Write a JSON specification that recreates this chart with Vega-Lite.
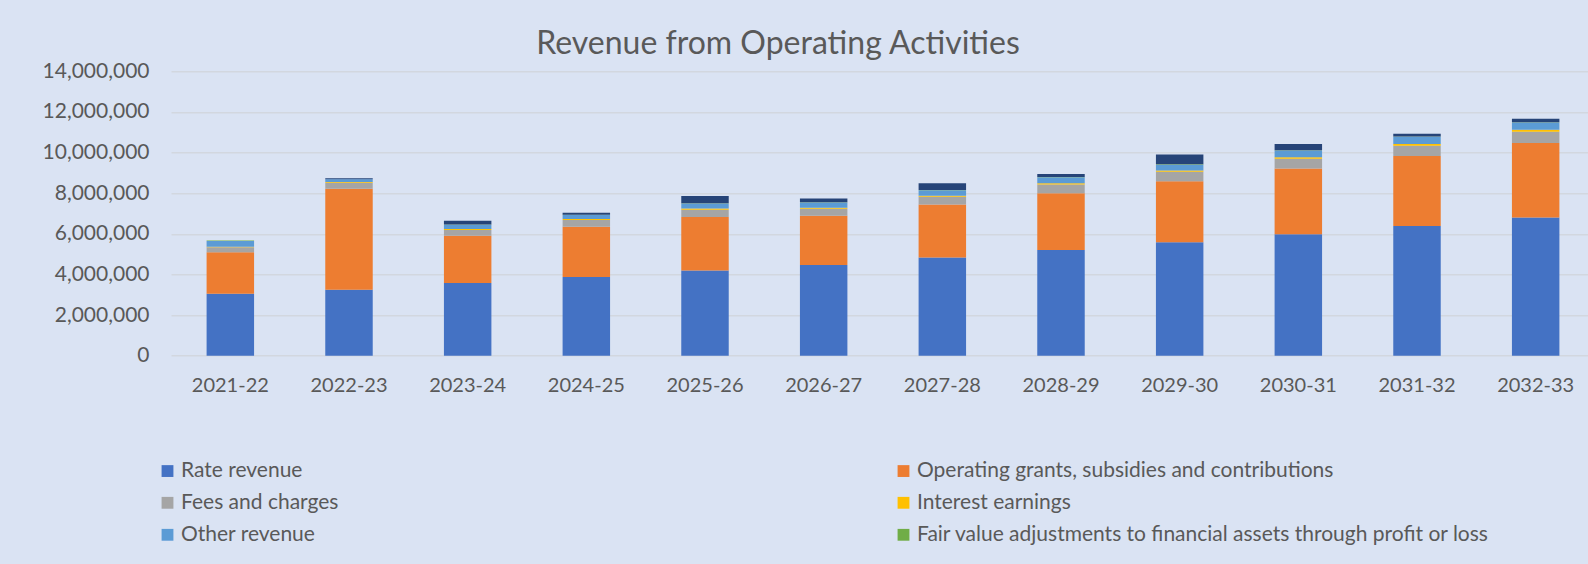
{
  "$schema": "https://vega.github.io/schema/vega-lite/v6.json",
  "autosize": "none",
  "width": 1424,
  "height": 284.4,
  "padding": {"left": 171, "top": 71.3, "right": 0, "bottom": 208.3},
  "background": "#DAE3F3",
  "config": {
    "font": "Lato",
    "view": {"stroke": null},
    "axis": {"labelColor": "#595959", "labelFont": "Lato", "labelFontSize": 20, "ticks": false, "domain": false, "title": null}
  },
  "title": {
    "text": "Revenue from Operating Activities",
    "font": "Lato",
    "fontSize": 32,
    "fontWeight": "normal",
    "color": "#595959",
    "anchor": "middle",
    "baseline": "alphabetic",
    "offset": -26,
    "dx": -105
  },
  "data": {
    "values": [
      {"y": "2021-22", "s": "Rate revenue", "v": 3050000},
      {"y": "2021-22", "s": "Operating grants, subsidies and  contributions", "v": 2040000},
      {"y": "2021-22", "s": "Fees and charges", "v": 246000},
      {"y": "2021-22", "s": "Interest earnings", "v": 30000},
      {"y": "2021-22", "s": "Other revenue", "v": 280000},
      {"y": "2021-22", "s": "Fair value adjustments to financial assets through profit or loss", "v": 20000},
      {"y": "2021-22", "s": "Other gains", "v": 0},
      {"y": "2022-23", "s": "Rate revenue", "v": 3250000},
      {"y": "2022-23", "s": "Operating grants, subsidies and  contributions", "v": 4970000},
      {"y": "2022-23", "s": "Fees and charges", "v": 295000},
      {"y": "2022-23", "s": "Interest earnings", "v": 40000},
      {"y": "2022-23", "s": "Other revenue", "v": 130000},
      {"y": "2022-23", "s": "Fair value adjustments to financial assets through profit or loss", "v": 0},
      {"y": "2022-23", "s": "Other gains", "v": 50000},
      {"y": "2023-24", "s": "Rate revenue", "v": 3580000},
      {"y": "2023-24", "s": "Operating grants, subsidies and  contributions", "v": 2330000},
      {"y": "2023-24", "s": "Fees and charges", "v": 280000},
      {"y": "2023-24", "s": "Interest earnings", "v": 50000},
      {"y": "2023-24", "s": "Other revenue", "v": 210000},
      {"y": "2023-24", "s": "Fair value adjustments to financial assets through profit or loss", "v": 10000},
      {"y": "2023-24", "s": "Other gains", "v": 180000},
      {"y": "2024-25", "s": "Rate revenue", "v": 3875000},
      {"y": "2024-25", "s": "Operating grants, subsidies and  contributions", "v": 2475000},
      {"y": "2024-25", "s": "Fees and charges", "v": 330000},
      {"y": "2024-25", "s": "Interest earnings", "v": 50000},
      {"y": "2024-25", "s": "Other revenue", "v": 200000},
      {"y": "2024-25", "s": "Fair value adjustments to financial assets through profit or loss", "v": 10000},
      {"y": "2024-25", "s": "Other gains", "v": 100000},
      {"y": "2025-26", "s": "Rate revenue", "v": 4190000},
      {"y": "2025-26", "s": "Operating grants, subsidies and  contributions", "v": 2640000},
      {"y": "2025-26", "s": "Fees and charges", "v": 360000},
      {"y": "2025-26", "s": "Interest earnings", "v": 50000},
      {"y": "2025-26", "s": "Other revenue", "v": 250000},
      {"y": "2025-26", "s": "Fair value adjustments to financial assets through profit or loss", "v": 10000},
      {"y": "2025-26", "s": "Other gains", "v": 360000},
      {"y": "2026-27", "s": "Rate revenue", "v": 4470000},
      {"y": "2026-27", "s": "Operating grants, subsidies and  contributions", "v": 2420000},
      {"y": "2026-27", "s": "Fees and charges", "v": 345000},
      {"y": "2026-27", "s": "Interest earnings", "v": 50000},
      {"y": "2026-27", "s": "Other revenue", "v": 260000},
      {"y": "2026-27", "s": "Fair value adjustments to financial assets through profit or loss", "v": 10000},
      {"y": "2026-27", "s": "Other gains", "v": 180000},
      {"y": "2027-28", "s": "Rate revenue", "v": 4830000},
      {"y": "2027-28", "s": "Operating grants, subsidies and  contributions", "v": 2610000},
      {"y": "2027-28", "s": "Fees and charges", "v": 380000},
      {"y": "2027-28", "s": "Interest earnings", "v": 50000},
      {"y": "2027-28", "s": "Other revenue", "v": 280000},
      {"y": "2027-28", "s": "Fair value adjustments to financial assets through profit or loss", "v": 10000},
      {"y": "2027-28", "s": "Other gains", "v": 330000},
      {"y": "2028-29", "s": "Rate revenue", "v": 5200000},
      {"y": "2028-29", "s": "Operating grants, subsidies and  contributions", "v": 2800000},
      {"y": "2028-29", "s": "Fees and charges", "v": 430000},
      {"y": "2028-29", "s": "Interest earnings", "v": 60000},
      {"y": "2028-29", "s": "Other revenue", "v": 300000},
      {"y": "2028-29", "s": "Fair value adjustments to financial assets through profit or loss", "v": 10000},
      {"y": "2028-29", "s": "Other gains", "v": 150000},
      {"y": "2029-30", "s": "Rate revenue", "v": 5580000},
      {"y": "2029-30", "s": "Operating grants, subsidies and  contributions", "v": 3010000},
      {"y": "2029-30", "s": "Fees and charges", "v": 460000},
      {"y": "2029-30", "s": "Interest earnings", "v": 70000},
      {"y": "2029-30", "s": "Other revenue", "v": 280000},
      {"y": "2029-30", "s": "Fair value adjustments to financial assets through profit or loss", "v": 20000},
      {"y": "2029-30", "s": "Other gains", "v": 490000},
      {"y": "2030-31", "s": "Rate revenue", "v": 5980000},
      {"y": "2030-31", "s": "Operating grants, subsidies and  contributions", "v": 3230000},
      {"y": "2030-31", "s": "Fees and charges", "v": 490000},
      {"y": "2030-31", "s": "Interest earnings", "v": 70000},
      {"y": "2030-31", "s": "Other revenue", "v": 330000},
      {"y": "2030-31", "s": "Fair value adjustments to financial assets through profit or loss", "v": 10000},
      {"y": "2030-31", "s": "Other gains", "v": 310000},
      {"y": "2031-32", "s": "Rate revenue", "v": 6390000},
      {"y": "2031-32", "s": "Operating grants, subsidies and  contributions", "v": 3440000},
      {"y": "2031-32", "s": "Fees and charges", "v": 510000},
      {"y": "2031-32", "s": "Interest earnings", "v": 80000},
      {"y": "2031-32", "s": "Other revenue", "v": 360000},
      {"y": "2031-32", "s": "Fair value adjustments to financial assets through profit or loss", "v": 10000},
      {"y": "2031-32", "s": "Other gains", "v": 130000},
      {"y": "2032-33", "s": "Rate revenue", "v": 6800000},
      {"y": "2032-33", "s": "Operating grants, subsidies and  contributions", "v": 3670000},
      {"y": "2032-33", "s": "Fees and charges", "v": 560000},
      {"y": "2032-33", "s": "Interest earnings", "v": 90000},
      {"y": "2032-33", "s": "Other revenue", "v": 360000},
      {"y": "2032-33", "s": "Fair value adjustments to financial assets through profit or loss", "v": 10000},
      {"y": "2032-33", "s": "Other gains", "v": 180000}
    ]
  },
  "transform": [
    {"calculate": "indexof(['Rate revenue', 'Operating grants, subsidies and  contributions', 'Fees and charges', 'Interest earnings', 'Other revenue', 'Fair value adjustments to financial assets through profit or loss', 'Other gains'], datum.s)", "as": "k"}
  ],
  "mark": {"type": "bar"},
  "encoding": {
    "x": {
      "field": "y",
      "type": "nominal",
      "sort": null,
      "scale": {"paddingInner": 0.6, "paddingOuter": 0.3},
      "axis": {"labelAngle": 0, "labelPadding": 20, "labelBaseline": "top"}
    },
    "y": {
      "field": "v",
      "type": "quantitative",
      "stack": "zero",
      "scale": {"domain": [0, 14000000], "nice": false},
      "axis": {"values": [0, 2000000, 4000000, 6000000, 8000000, 10000000, 12000000, 14000000], "format": ",d", "labelFontSize": 21, "labelPadding": 22, "grid": true, "gridColor": "#D2D7DF", "gridWidth": 1.5}
    },
    "order": {"field": "k", "type": "quantitative", "sort": "ascending"},
    "color": {
      "field": "s",
      "type": "nominal",
      "sort": ["Rate revenue", "Operating grants, subsidies and  contributions", "Fees and charges", "Interest earnings", "Other revenue", "Fair value adjustments to financial assets through profit or loss", "Other gains"],
      "scale": {
        "domain": ["Rate revenue", "Operating grants, subsidies and  contributions", "Fees and charges", "Interest earnings", "Other revenue", "Fair value adjustments to financial assets through profit or loss", "Other gains"],
        "range": ["#4472C4", "#ED7D31", "#A5A5A5", "#FFC000", "#5B9BD5", "#70AD47", "#264478"]
      },
      "legend": {
        "values": ["Rate revenue", "Operating grants, subsidies and  contributions", "Fees and charges", "Interest earnings", "Other revenue", "Fair value adjustments to financial assets through profit or loss"],
        "title": null,
        "orient": "none",
        "direction": "horizontal",
        "legendX": -14,
        "legendY": 389,
        "columns": 2,
        "columnPadding": 554,
        "rowPadding": 10,
        "symbolType": "square",
        "symbolSize": 140,
        "symbolStrokeWidth": 0,
        "labelFont": "Lato",
        "labelFontSize": 21,
        "labelColor": "#595959",
        "labelOffset": 3,
        "labelLimit": 800
      }
    }
  }
}
